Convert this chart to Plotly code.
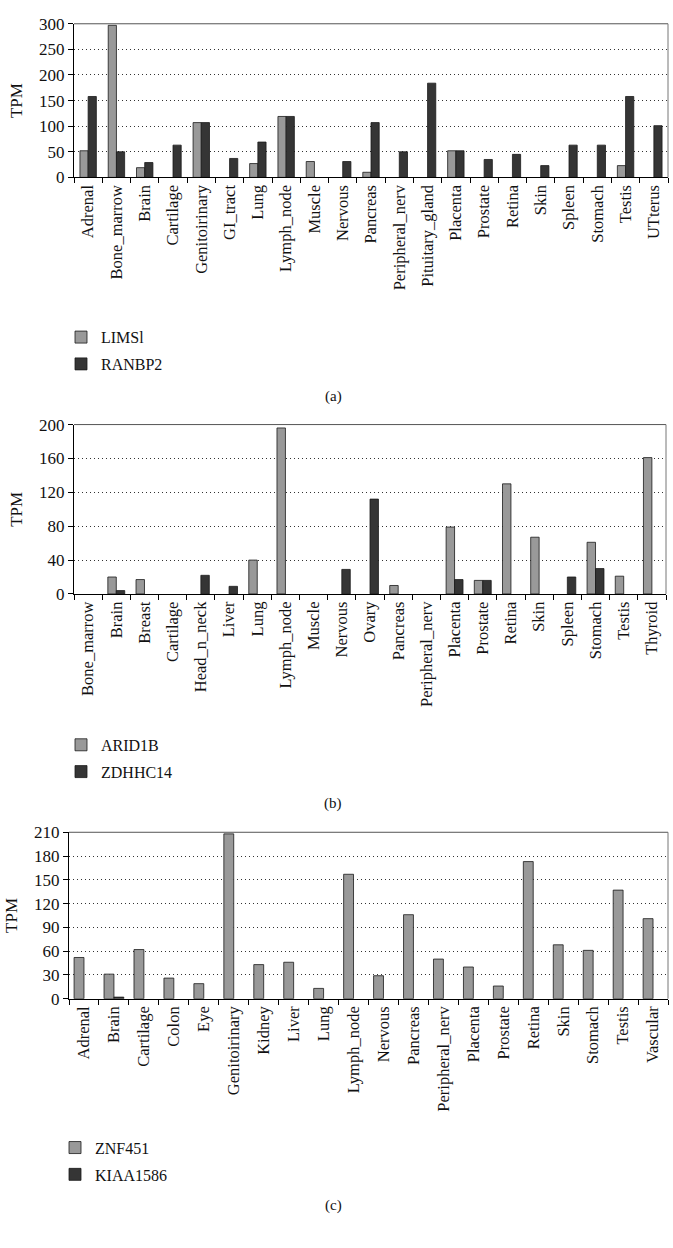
import plotly.graph_objects as go

# ---------------- data ----------------
cats_a = ["Adrenal", "Bone_marrow", "Brain", "Cartilage", "Genitoirinary", "GI_tract", "Lung",
          "Lymph_node", "Muscle", "Nervous", "Pancreas", "Peripheral_nerv", "Pituitary_gland",
          "Placenta", "Prostate", "Retina", "Skin", "Spleen", "Stomach", "Testis", "UTterus"]
limsl = [52, 297, 19, 0, 107, 0, 27, 119, 31, 0, 10, 0, 0, 52, 0, 0, 0, 0, 0, 23, 0]
ranbp2 = [158, 50, 29, 63, 107, 37, 69, 119, 0, 31, 107, 50, 184, 52, 35, 45, 23, 63, 63, 158, 101]

cats_b = ["Bone_marrow", "Brain", "Breast", "Cartilage", "Head_n_neck", "Liver", "Lung",
          "Lymph_node", "Muscle", "Nervous", "Ovary", "Pancreas", "Peripheral_nerv", "Placenta",
          "Prostate", "Retina", "Skin", "Spleen", "Stomach", "Testis", "Thyroid"]
arid1b = [0, 20, 17, 0, 0, 0, 40, 196, 0, 0, 0, 10, 0, 79, 16, 130, 67, 0, 61, 21, 161]
zdhhc14 = [0, 4, 0, 0, 22, 9, 0, 0, 0, 29, 112, 0, 0, 17, 16, 0, 0, 20, 30, 0, 0]

cats_c = ["Adrenal", "Brain", "Cartilage", "Colon", "Eye", "Genitoirinary", "Kidney", "Liver",
          "Lung", "Lymph_node", "Nervous", "Pancreas", "Peripheral_nerv", "Placenta", "Prostate",
          "Retina", "Skin", "Stomach", "Testis", "Vascular"]
znf451 = [52, 31, 62, 26, 19, 208, 43, 46, 13, 157, 29, 106, 50, 40, 16, 173, 68, 61, 137, 101]
kiaa1586 = [0, 2, 0, 0, 0, 0, 0, 0, 0, 0, 0, 0, 0, 0, 0, 0, 0, 0, 0, 0]

yticks_a = [0, 50, 100, 150, 200, 250, 300]
yticks_b = [0, 40, 80, 120, 160, 200]
yticks_c = [0, 30, 60, 90, 120, 150, 180, 210]

# ---------------- style ----------------
W, H = 673, 1248
FONT = "Liberation Serif"
LIGHT = "#999999"
DARK = "#353535"
EDGE = "#1a1a1a"


def py(px):
    return 1 - px / H


fig = go.Figure()

panels = [
    ("x", "y", "legend", cats_a, 0.29, [("LIMSl", limsl, LIGHT), ("RANBP2", ranbp2, DARK)]),
    ("x2", "y2", "legend2", cats_b, 0.30, [("ARID1B", arid1b, LIGHT), ("ZDHHC14", zdhhc14, DARK)]),
    ("x3", "y3", "legend3", cats_c, 0.33, [("ZNF451", znf451, LIGHT), ("KIAA1586", kiaa1586, DARK)]),
]

for xa, ya, lg, cats, bw, series in panels:
    for i, (name, vals, col) in enumerate(series):
        fig.add_trace(go.Bar(
            x=cats, y=[v if v else None for v in vals], name=name, xaxis=xa, yaxis=ya, legend=lg,
            legendgroup=f"{lg}_{i}", width=bw, offset=(-bw if i == 0 else 0),
            marker=dict(color=col, line=dict(color=EDGE, width=0.8)),
        ))

xdoms = [[74 / W, 668 / W], [74 / W, 666 / W], [69 / W, 668 / W]]
ydoms = [[py(171), py(15)], [py(594), py(422)], [py(1005), py(836)]]
yt = [yticks_a, yticks_b, yticks_c]

common_x = dict(type="category", tickangle=-90, tickson="boundaries", ticks="outside",
                ticklen=5, tickcolor="black", showline=True, linecolor="black", linewidth=1,
                showgrid=False, tickfont=dict(family=FONT, size=16.5, color="#111"))
common_y = dict(ticks="outside", ticklen=5, tickcolor="black", showline=True, linecolor="black",
                linewidth=1, showgrid=True, gridcolor="#333", griddash="1px,3px", gridwidth=1,
                zeroline=False, tickfont=dict(family=FONT, size=17, color="#111"),
                title=dict(text="TPM", font=dict(family=FONT, size=17, color="#111"), standoff=12))

layout = dict(width=W, height=H, margin=dict(l=0, r=0, t=0, b=0),
              paper_bgcolor="white", plot_bgcolor="white",
              barmode="overlay",
              font=dict(family=FONT, color="#111"))

for k in range(3):
    sx = "" if k == 0 else str(k + 1)
    layout[f"xaxis{sx}"] = dict(common_x, domain=xdoms[k], anchor=f"y{sx}")
    layout[f"yaxis{sx}"] = dict(common_y, domain=ydoms[k], anchor=f"x{sx}",
                                range=[0, max(yt[k])], tickvals=yt[k])

leg_tops = [316, 730, 1139]
leg_x = [61, 61, 55]
for k in range(3):
    key = "legend" if k == 0 else f"legend{k + 1}"
    layout[key] = dict(x=leg_x[k] / W, y=py(leg_tops[k]), xanchor="left", yanchor="top",
                       orientation="v", tracegroupgap=3, bgcolor="rgba(0,0,0,0)",
                       traceorder="grouped",
                       font=dict(family=FONT, size=16, color="#111"))

fig.update_layout(**layout)

# frame top/right (gray)
for k in range(3):
    sx = "" if k == 0 else str(k + 1)
    fig.add_shape(type="line", xref=f"x{sx} domain", yref=f"y{sx} domain",
                  x0=0, x1=1, y0=1, y1=1, line=dict(color="#555", width=1))
    fig.add_shape(type="line", xref=f"x{sx} domain", yref=f"y{sx} domain",
                  x0=1, x1=1, y0=0, y1=1, line=dict(color="#777", width=1))

for txt, ypx in [("(a)", 393), ("(b)", 807), ("(c)", 1215)]:
    fig.add_annotation(text=txt, x=333 / W, y=py(ypx), xref="paper", yref="paper",
                       showarrow=False, font=dict(family=FONT, size=15, color="#111"),
                       xanchor="center", yanchor="middle")

fig.write_html("out.html", config={"displayModeBar": False},
               post_script="document.body.style.margin='0';document.body.style.overflow='hidden';")
